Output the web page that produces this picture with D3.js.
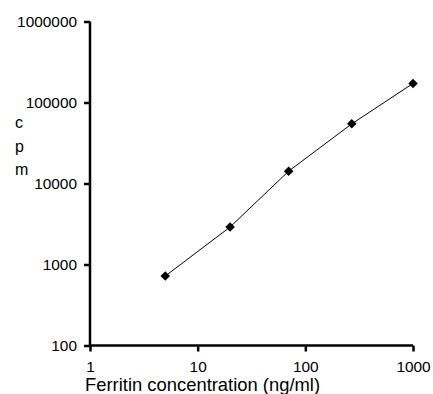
<!DOCTYPE html>
<html>
<head>
<meta charset="utf-8">
<script src="https://cdn.jsdelivr.net/npm/d3@7"></script>
<style>
  body { margin: 0; background: #fff; }
  svg text { font-family: "Liberation Sans", Arial, sans-serif; fill: #000; }
</style>
</head>
<body>
<div id="chart"></div>
<script>
// ferritin standard curve
const concentration = [5, 20, 70, 270, 1000];
const cpm = [720, 2900, 14200, 54500, 172000];
const xTicks = [1, 10, 100, 1000];
const yTicks = [100, 1000, 10000, 100000, 1000000];

const W = 433, H = 394;
const margin = { top: 21.5, right: 20, bottom: 48.5, left: 90 },
    width = W - margin.left - margin.right,
    height = H - margin.top - margin.bottom;

const svg = d3.select("#chart").append("svg")
    .attr("width", W)
    .attr("height", H);

const g = svg.append("g")
    .attr("transform", "translate(" + margin.left + "," + margin.top + ")");

const x = d3.scaleLog().domain([1, 1000]).range([0, width]);
const y = d3.scaleLog().domain([100, 1000000]).range([height, 0]);

const xAxis = g.append("g")
    .attr("transform", "translate(0," + height + ")")
    .call(d3.axisBottom(x).tickValues(xTicks).tickFormat(d3.format("d")).tickSize(6).tickPadding(10));
xAxis.selectAll("text").attr("font-size", "15.4px").attr("font-family", "Liberation Sans, Arial, sans-serif");

const yAxis = g.append("g")
    .call(d3.axisLeft(y).tickValues(yTicks).tickFormat(d3.format("d")).tickSize(6).tickPadding(7));
yAxis.selectAll("text").attr("font-size", "15.4px").attr("font-family", "Liberation Sans, Arial, sans-serif");

[xAxis, yAxis].forEach(a => {
    a.select(".domain").attr("stroke", "#000").attr("stroke-width", 2.5);
    a.selectAll(".tick line").attr("stroke", "#000").attr("stroke-width", 2.5);
});
yAxis.select(".domain").attr("d", "M0," + height + "V0");
xAxis.select(".domain").attr("d", "M0,0H" + width);

// axis titles
svg.append("text")
    .attr("x", 85)
    .attr("y", 391)
    .attr("font-size", "18.4px")
    .text("Ferritin concentration (ng/ml)");

const ylab = svg.append("text")
    .attr("font-size", "16px");
["c", "p", "m"].forEach((ch, i) => {
    ylab.append("tspan").attr("x", 15).attr("y", 128 + i * 23.5).text(ch);
});

const pts = concentration.map((c, i) => [c, cpm[i]]);

g.append("path")
    .datum(pts)
    .attr("fill", "none")
    .attr("stroke", "#000")
    .attr("stroke-width", 1)
    .attr("d", d3.line().x(d => x(d[0])).y(d => y(d[1])));

g.selectAll(".pt")
    .data(pts)
    .enter().append("path")
    .attr("class", "pt")
    .attr("transform", d => "translate(" + x(d[0]) + "," + y(d[1]) + ")")
    .attr("d", d3.symbol().type(d3.symbolDiamond2).size(58))
    .attr("fill", "#000");
</script>
</body>
</html>
